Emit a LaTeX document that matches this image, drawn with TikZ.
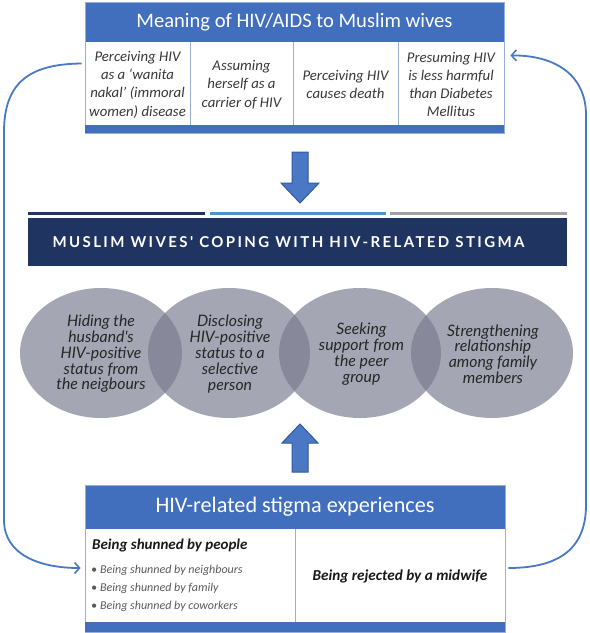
\documentclass[tikz,border=0pt]{standalone}
\usepackage{fontspec}
\setmainfont{Carlito}
\newfontfamily\gillfont{Lato}
\newfontfamily\gillwide[LetterSpace=16]{Lato}
\usetikzlibrary{arrows.meta,shapes.geometric}
\definecolor{hblue}{RGB}{66,110,190}
\definecolor{cellline}{RGB}{150,175,220}
\definecolor{navy}{RGB}{31,52,96}
\definecolor{lblue}{RGB}{76,148,204}
\definecolor{lgray}{RGB}{160,160,166}
\definecolor{ellc}{RGB}{120,123,143}
\definecolor{conn}{RGB}{72,122,196}
\definecolor{arrfill}{RGB}{74,120,196}
\definecolor{arrdraw}{RGB}{48,88,160}
\definecolor{celltext}{RGB}{55,55,55}
\tikzset{
  hdrtext/.style={text=white,font=\fontsize{20.6}{24}\selectfont},
  celltxt/.style={text=celltext,font=\itshape\fontsize{14.8}{18.3}\selectfont,align=center,inner sep=0pt},
  circtxt/.style={text=black!85,font=\gillfont\itshape\fontsize{15.8}{15.8}\selectfont,align=center,inner sep=0pt},
  ell/.style={ellipse,fill=ellc,fill opacity=0.67,minimum width=162pt,minimum height=130pt,inner sep=0pt},
  connector/.style={draw=conn,line width=1.8pt,-{Straight Barb[length=5pt,width=11pt,line width=1.6pt]}},
  blockarrow/.style={fill=arrfill,draw=arrdraw,line width=1pt},
  boxframe/.style={draw=cellline,line width=0.8pt,inner sep=0pt},
  bullettxt/.style={anchor=west,inner sep=0pt,text=black!65,font=\itshape\fontsize{12}{14}\selectfont},
}
\begin{document}
\begin{tikzpicture}[x=1pt,y=-1pt]
\useasboundingbox (0,0) rectangle (590,633);
% ---------- top box ----------
\fill[hblue] (85,2) rectangle (504,42);
\node[boxframe,minimum width=419pt,minimum height=131pt] (topbox) at (294.5,67.5) {};
\fill[hblue] (85,125) rectangle (504,133);
\node[hdrtext] (toptitle) at (294.5,22) {Meaning of HIV/AIDS to Muslim wives};
\draw[cellline,line width=0.8pt] (190,42) -- (190,125) (293,42) -- (293,125) (398,42) -- (398,125);
\node[celltxt] (m1) at (137.5,84.5) {Perceiving HIV\\as a `wanita\\nakal' (immoral\\women) disease};
\node[celltxt] (m2) at (241.5,84.5) {Assuming\\herself as a\\carrier of HIV};
\node[celltxt] (m3) at (345.5,84.5) {Perceiving HIV\\causes death};
\node[celltxt] (m4) at (451,84.5) {Presuming HIV\\is less harmful\\than Diabetes\\Mellitus};
% ---------- down block arrow ----------
\draw[blockarrow] (292,152) -- (308,152) -- (308,183) -- (319,183) -- (300,203) -- (281,183) -- (292,183) -- cycle;
% ---------- three lines ----------
\draw[navy,line width=3pt] (28,213) -- (205,213);
\draw[lblue,line width=3pt] (210,213) -- (386,213);
\draw[lgray,line width=3pt] (390,213) -- (567,213);
% ---------- coping title ----------
\node[fill=navy,minimum width=539pt,minimum height=48pt,inner sep=0pt] (coping) at (297.5,242) {};
\node[text=white,inner sep=0pt,font=\gillwide\bfseries\fontsize{15}{16}\selectfont] (copingtxt) at (288.5,242) {MUSLIM WIVES' COPING WITH HIV-RELATED STIGMA};
% ---------- ellipses ----------
\node[ell] (e1) at (101,353) {};
\node[ell] (e2) at (229,353) {};
\node[ell] (e3) at (360,353) {};
\node[ell] (e4) at (492,353) {};
\node[circtxt] (c1) at (101,354) {Hiding the\\husband's\\HIV-positive\\status from\\the neigbours};
\node[circtxt] (c2) at (230,354) {Disclosing\\HIV-positive\\status to a\\selective\\person};
\node[circtxt] (c3) at (361.5,354) {Seeking\\support from\\the peer\\group};
\node[circtxt] (c4) at (493,354) {Strengthening\\relationship\\among family\\members};
% ---------- up block arrow ----------
\draw[blockarrow] (292,472) -- (308,472) -- (308,443) -- (318,443) -- (300,424) -- (282,443) -- (292,443) -- cycle;
% ---------- bottom box ----------
\fill[hblue] (85,485) rectangle (505,529);
\node[boxframe,minimum width=420pt,minimum height=147pt] (botbox) at (295,558.5) {};
\fill[hblue] (85,622) rectangle (505,632);
\node[hdrtext,font=\fontsize{22.2}{25}\selectfont] (bottitle) at (295,507) {HIV-related stigma experiences};
\draw[cellline,line width=0.8pt] (295,529) -- (295,622);
\node[anchor=west,inner sep=0pt,text=black!90,font=\bfseries\itshape\fontsize{15}{17}\selectfont] (s0) at (92,545) {Being shunned by people};
\node[bullettxt] (s1) at (91,570) {\textbullet\hspace{3pt}Being shunned by neighbours};
\node[bullettxt] (s2) at (91,588) {\textbullet\hspace{3pt}Being shunned by family};
\node[bullettxt] (s3) at (91,606) {\textbullet\hspace{3pt}Being shunned by coworkers};
\node[text=black!90,inner sep=0pt,font=\bfseries\itshape\fontsize{15.2}{17}\selectfont] (r1) at (400,576) {Being rejected by a midwife};
% ---------- connectors ----------
\coordinate (lstart) at ([xshift=-3pt,yshift=4pt]topbox.west);
\coordinate (lend) at ([xshift=-4pt,yshift=-9.5pt]botbox.west);
\coordinate (rstart) at ([xshift=3pt,yshift=-9.5pt]botbox.east);
\coordinate (rend) at ([xshift=6pt,yshift=12pt]topbox.east);
\draw[connector] (lstart) .. controls (30,64) and (4,82) .. (4,132) -- (4,520) .. controls (4,555) and (40,568) .. (lend);
\draw[connector] (rstart) .. controls (560,568) and (586,548) .. (586,505) -- (586,115) .. controls (586,75) and (555,55) .. (rend);
\end{tikzpicture}
\end{document}
